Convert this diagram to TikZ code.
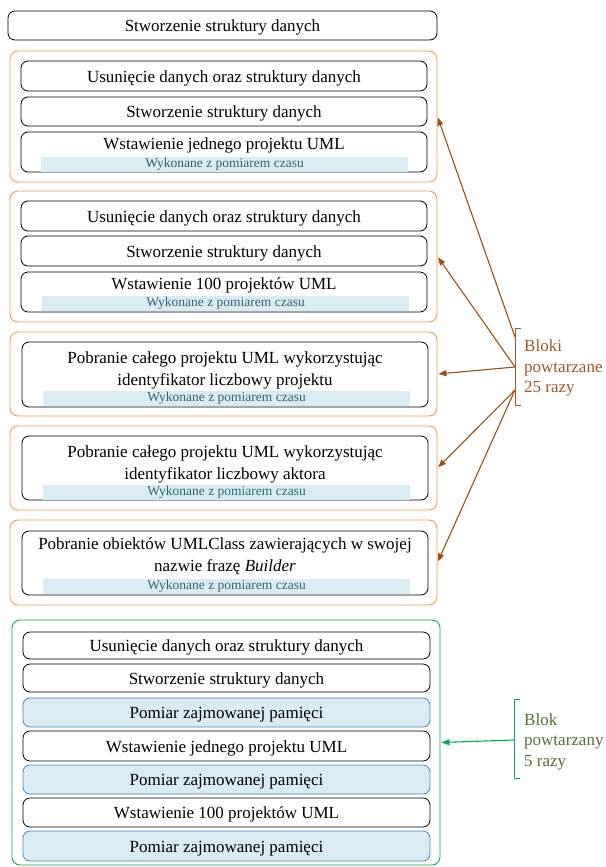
\documentclass[tikz,border=0pt]{standalone}
\usepackage{fontspec}
\setmainfont{Liberation Serif}
\usetikzlibrary{arrows.meta}
\definecolor{grporange}{RGB}{247,150,70}
\definecolor{arrbrown}{RGB}{158,78,18}
\definecolor{txtbrown}{RGB}{160,86,36}
\definecolor{grpgreen}{RGB}{0,176,80}
\definecolor{txtolive}{RGB}{84,110,50}
\definecolor{memblue}{RGB}{65,135,205}
\definecolor{bandfill}{RGB}{218,236,243}
\definecolor{bandtext}{RGB}{49,100,115}

\begin{document}
\begin{tikzpicture}[x=1pt,y=-1pt,
  grp/.style={rectangle,rounded corners=8pt,draw=grporange,line width=0.9pt,
              minimum width=427pt,inner sep=0pt},
  grpz/.style={rectangle,rounded corners=8pt,draw=grpgreen,line width=0.9pt,
               minimum width=428pt,inner sep=0pt},
  stepbox/.style={rectangle,rounded corners=7pt,draw=black,line width=0.8pt,fill=white,
                  minimum width=406pt,inner sep=0pt,text height=12.5pt,text depth=0pt,
                  font=\fontsize{17}{22}\selectfont},
  membox/.style={stepbox,draw=memblue,fill=bandfill},
  steptxt/.style={align=center,inner sep=0pt,font=\fontsize{17}{22}\selectfont},
  band/.style={rectangle,fill=bandfill,minimum width=367pt,minimum height=15pt,inner sep=0pt,
               text=bandtext,font=\fontsize{13.5}{15}\selectfont},
  brarrow/.style={draw=arrbrown,line width=1.1pt,shorten >=1pt,-{Triangle[length=8pt,width=6pt]}},
  grarrow/.style={draw=grpgreen,line width=1.1pt,shorten >=1pt,-{Triangle[length=8pt,width=6pt]}},
  brtext/.style={anchor=west,align=left,inner sep=2pt,font=\fontsize{17}{20.5}\selectfont}
]
\useasboundingbox (0,0) rectangle (605,867);

\node[grp,minimum height=131pt] (g1) at (223.5,116.5) {};
\node[grp,minimum height=131pt] (g2) at (223.5,256.5) {};
\node[grp,minimum height=84pt]  (g3) at (223.5,374)   {};
\node[grp,minimum height=84pt]  (g4) at (223.5,468)   {};
\node[grp,minimum height=85pt]  (g5) at (223.5,562.5) {};
\node[grpz,minimum height=245pt] (gz) at (226,742.5)  {};

\node[stepbox,minimum width=429pt,minimum height=29pt] (init) at (222.5,25.5) {Stworzenie struktury danych};

\node[stepbox,minimum height=30pt] (u1) at (224,76)    {Usunięcie danych oraz struktury danych};
\node[stepbox,minimum height=29pt] (s1) at (224,111.5) {Stworzenie struktury danych};
\node[stepbox,minimum height=40pt] (w1) at (224,152)   {};
\node[steptxt] (w1t) at (224,145) {Wstawienie jednego projektu UML};
\node[band] (w1b) at (224.5,164.5) {Wykonane z pomiarem czasu};

\node[stepbox,minimum height=30pt] (u2) at (224,216)   {Usunięcie danych oraz struktury danych};
\node[stepbox,minimum height=30pt] (s2) at (224,251)   {Stworzenie struktury danych};
\node[stepbox,minimum height=40pt] (w2) at (224,292)   {};
\node[steptxt] (w2t) at (224,285) {Wstawienie 100 projektów UML};
\node[band] (w2b) at (225.5,303.5) {Wykonane z pomiarem czasu};

\node[stepbox,minimum height=65pt] (p3) at (225,374.5) {};
\node[steptxt] (p3t) at (225,370) {Pobranie całego projektu UML wykorzystując\\identyfikator liczbowy projektu};
\node[band] (p3b) at (226.5,398) {Wykonane z pomiarem czasu};

\node[stepbox,minimum height=64pt] (p4) at (225,468) {};
\node[steptxt] (p4t) at (225,464) {Pobranie całego projektu UML wykorzystując\\identyfikator liczbowy aktora};
\node[band] (p4b) at (226.5,492) {Wykonane z pomiarem czasu};

\node[stepbox,minimum height=64pt] (p5) at (225,563) {};
\node[steptxt] (p5t) at (225,556.5) {Pobranie obiektów UMLClass zawierających w swojej\\nazwie frazę \textit{Builder}};
\node[band] (p5b) at (226.5,586) {Wykonane z pomiarem czasu};

\node[stepbox,minimum width=407pt,minimum height=27pt] (uz) at (226.5,645.5) {Usunięcie danych oraz struktury danych};
\node[stepbox,minimum width=407pt,minimum height=28pt] (sz) at (226.5,678)   {Stworzenie struktury danych};
\node[membox,minimum width=407pt,minimum height=29pt] (m1) at (226.5,712.5)  {Pomiar zajmowanej pamięci};
\node[stepbox,minimum width=407pt,minimum height=30pt] (wz1) at (226.5,746)  {Wstawienie jednego projektu UML};
\node[membox,minimum width=407pt,minimum height=29pt] (m2) at (226.5,779.5)  {Pomiar zajmowanej pamięci};
\node[stepbox,minimum width=407pt,minimum height=29pt] (wz2) at (226.5,812.5) {Wstawienie 100 projektów UML};
\node[membox,minimum width=407pt,minimum height=30pt] (m3) at (226.5,846)    {Pomiar zajmowanej pamięci};

\draw[txtbrown,line width=0.9pt] (521,328) -- (515,328) -- (515,405) -- (521,405);
\node[brtext,text=txtbrown] (rep25) at (522,368) {Bloki\\powtarzane\\25 razy};
\coordinate (o1) at (515,337);
\coordinate (o2) at (515,367);
\coordinate (o3) at (515,390);
\draw[brarrow] (o1) -- (g1.east);
\draw[brarrow] (o2) -- (g2.east);
\draw[brarrow] (o2) -- (g3.east);
\draw[brarrow] (o3) -- (g4.east);
\draw[brarrow] (o3) -- (g5.east);

\draw[grpgreen,line width=0.9pt] (520,699) -- (514,699) -- (514,778) -- (520,778);
\node[brtext,text=txtolive] (rep5) at (522,741.5) {Blok\\powtarzany\\5 razy};
\coordinate (oz) at (514,740);
\draw[grarrow] (oz) -- (gz.east);
\end{tikzpicture}
\end{document}
